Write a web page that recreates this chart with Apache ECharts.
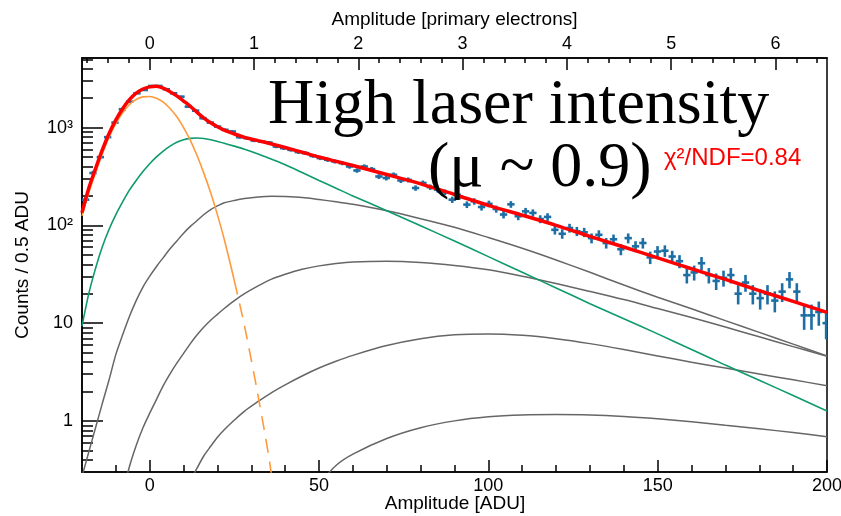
<!DOCTYPE html>
<html>
<head>
<meta charset="utf-8">
<script src="https://cdn.jsdelivr.net/npm/echarts/dist/echarts.min.js"></script>
<style>
html,body{margin:0;padding:0;background:#fff;}
#chart{width:841px;height:516px;}
</style>
</head>
<body>
<div id="chart"></div>
<script>
// ---------------- DATA ----------------
// histogram (Amplitude in ADU), 102 bins starting at -20 ADU
const binStart = -20;
const binWidth = 2.165;
const counts = [183,343,499,798,1125,1541,1841,2244,2425,2665,
  2665,2466,2244,2072,1638,1490,1247,1125,1024,948,
  911,798,780,737,720,703,640,616,592,562,
  548,514,487,468,450,433,400,364,400,376,
  316,305,329,288,292,241,271,246,232,218,
  183,198,163,176,154,166,147,129,164,124,
  139,134,116,122,90,82,94,87,85,74,
  80,66,72,57,74,61,66,47,54,55,
  48,43,31,33,41,31,27,29,31,20,
  26,20,18,20,17,21,28,21,12,12,
  13,10];

// fitted curves sampled at curveX (ADU)
const curveX = [-20,-18,-16,-14,-12,-10,-8,-6,-4,-2,0,2,4,6,8,10,12,14,16,18,20,22,25,28,32,36,40,45,50,55,60,70,80,90,100,110,120,130,140,150,160,170,180,190,200];
const totalFit = [135,240,380,590,870,1200,1560,1930,2250,2480,2610,2640,2530,2330,2110,1870,1650,1430,1250,1120,1020,940,860,795,735,680,625,560,500,452,409,331,266,207,160,127,100,77,60,46.5,36,28,21.5,16.7,12.9];
const pe0 = [125,215,345,540,800,1100,1420,1720,1940,2060,2080,2000,1820,1570,1290,1000,740,515,340,215,128,72,27,9.3,1.8,0.27,0.012,
  null,null,null,null,null,null,null,null,null,null,null,null,null,null,null,null,null,null];
const pe1 = [9.3,20,36.3,60.3,91.2,129,174,229,288,355,427,501,575,646,708,750,776,782,773,750,721,692,646,600,537,474,417,347,288,240,200,141,98.9,69.2,47.9,33.1,22.9,15.8,11.1,7.76,5.37,3.72,2.6,1.82,1.26];
const pe2 = [0.27,0.48,0.85,1.51,2.63,4.79,7.59,11.7,17,23.4,30.2,38,46.8,57.5,69.2,83.2,97.7,112,129,145,158,170,180,188,195,198,197,193,184,174,164,141,117,95.5,75,58.2,44.2,33.1,24.5,18.4,14,10.6,8.04,6.1,4.62];
const pe3 = [null,null,null,null,null,null,0.18,0.34,0.56,0.85,1.2,1.66,2.29,3.02,3.89,4.9,6.17,7.59,9.12,10.7,12.3,14.1,17,20,24,28.2,31.6,35.5,38.5,40.7,42.2,42.9,41.7,38.9,35.1,30.2,25.4,21.1,17.4,14.1,11.4,9.12,7.24,5.75,4.57];
const pe4 = [null,null,null,null,null,null,null,null,null,null,null,null,null,null,null,null,0.24,0.33,0.44,0.55,0.68,0.81,1.02,1.26,1.58,1.95,2.34,2.88,3.47,4.07,4.68,5.89,6.92,7.59,7.76,7.5,6.92,6.17,5.37,4.62,3.98,3.47,3.02,2.63,2.29];
const pe5 = [null,null,null,null,null,null,null,null,null,null,null,null,null,null,null,null,null,null,null,null,null,null,null,null,null,null,null,null,0.224,0.35,0.457,0.66,0.85,1.0,1.1,1.15,1.16,1.15,1.11,1.05,0.98,0.9,0.83,0.76,0.69];
const dashStartX = 25;  // pedestal curve drawn dashed beyond this

// axes
const xMin = -20, xMax = 200;
const yMin = 0.3, yMax = 5150;
const adcPerElectron = 30.8;
const bottomMajor = [0,50,100,150,200];
const bottomMinor = [-10,10,20,30,40,60,70,80,90,110,120,130,140,160,170,180,190];
const topMajor = [0,1,2,3,4,5,6];
const topMinor = [-0.6,-0.4,-0.2,0.2,0.4,0.6,0.8,1.2,1.4,1.6,1.8,2.2,2.4,2.6,2.8,3.2,3.4,3.6,3.8,4.2,4.4,4.6,4.8,5.2,5.4,5.6,5.8,6.2,6.4];
const leftMajor = [1,10,100,1000];
const leftMinor = [0.4,0.5,0.6,0.7,0.8,0.9,2,3,4,5,6,7,8,9,20,30,40,50,60,70,80,90,200,300,400,500,600,700,800,900,2000,3000,4000,5000];

// -------------- BUILD ---------------
const pair = arr => curveX.map((x,i)=>[x, arr[i]]);
const histData = counts.map((c,i)=>[binStart + binWidth*(i+0.5), c]);
const pe0Solid = curveX.map((x,i)=> x<=dashStartX ? [x,pe0[i]] : [x,null]);
const pe0Dash = curveX.map((x,i)=> x>=dashStartX ? [x,pe0[i]] : [x,null]);

const SANS = '"Liberation Sans", Arial, sans-serif';
const SERIF = '"Liberation Serif", "Times New Roman", serif';
const blk = {color:'#000', width:1.5};

const chart = echarts.init(document.getElementById('chart'), null, {renderer:'canvas'});
const lineBase = {type:'line', showSymbol:false, symbol:'none', smooth:0.3, clip:true, silent:true, animation:false, connectNulls:false};

chart.setOption({
  animation:false,
  backgroundColor:'#fff',
  grid:{left:82, right:14, top:58, bottom:44, show:true, borderColor:'#000', borderWidth:1.5,
        backgroundColor:'transparent', containLabel:false, outerBoundsMode:'none'},
  xAxis:[
    {type:'value', min:xMin, max:xMax, position:'bottom',
     axisLine:{show:true, onZero:false, lineStyle:blk},
     axisTick:{show:true, inside:true, length:12, customValues:bottomMajor, lineStyle:blk},
     axisLabel:{customValues:bottomMajor, color:'#000', fontSize:18, fontFamily:SANS, margin:5},
     splitLine:{show:false}},
    {type:'value', min:xMin, max:xMax, position:'bottom',
     axisLine:{show:false, onZero:false},
     axisTick:{show:true, inside:true, length:7, customValues:bottomMinor, lineStyle:blk},
     axisLabel:{show:false}, splitLine:{show:false}},
    {type:'value', min:xMin/adcPerElectron, max:xMax/adcPerElectron, position:'top',
     axisLine:{show:true, onZero:false, lineStyle:blk},
     axisTick:{show:true, inside:true, length:12, customValues:topMajor, lineStyle:blk},
     axisLabel:{customValues:topMajor, color:'#000', fontSize:18, fontFamily:SANS, margin:5},
     splitLine:{show:false},
     name:'Amplitude [primary electrons]', nameLocation:'middle', nameGap:29,
     nameTextStyle:{color:'#000', fontSize:19, fontFamily:SANS}},
    {type:'value', min:xMin/adcPerElectron, max:xMax/adcPerElectron, position:'top',
     axisLine:{show:false, onZero:false},
     axisTick:{show:true, inside:true, length:5, customValues:topMinor, lineStyle:blk},
     axisLabel:{show:false}, splitLine:{show:false}}
  ],
  yAxis:[
    {type:'log', logBase:10, min:yMin, max:yMax, position:'left',
     axisLine:{show:true, onZero:false, lineStyle:blk},
     axisTick:{show:true, inside:true, length:21, customValues:leftMajor, lineStyle:blk},
     axisLabel:{customValues:leftMajor, color:'#000', fontSize:18, fontFamily:SANS, margin:9,
       formatter:function(v){const e=Math.round(Math.log10(v)); return e===0?'1':(e===1?'10':(e===2?'10²':'10³'));}},
     splitLine:{show:false}, minorTick:{show:false},
     name:'Counts / 0.5 ADU', nameLocation:'middle', nameGap:50,
     nameTextStyle:{color:'#000', fontSize:19, fontFamily:SANS}},
    {type:'log', logBase:10, min:yMin, max:yMax, position:'left',
     axisLine:{show:false, onZero:false},
     axisTick:{show:true, inside:true, length:11, customValues:leftMinor, lineStyle:blk},
     axisLabel:{show:false}, splitLine:{show:false}}
  ],
  series:[
    {type:'custom', name:'data', xAxisIndex:0, yAxisIndex:0, clip:true, silent:true, z:2,
     data:histData,
     renderItem:function(params, api){
       const x = api.value(0), v = api.value(1);
       const e = Math.sqrt(v);
       const c = api.coord([x, v]);
       const l = api.coord([x - binWidth/2, v]);
       const r = api.coord([x + binWidth/2, v]);
       const t = api.coord([x, v + e]);
       const b = api.coord([x, Math.max(v - e, yMin)]);
       const st = {stroke:'#1c6ea4', lineWidth:2.6, lineCap:'butt'};
       return {type:'group', children:[
         {type:'line', shape:{x1:l[0], y1:c[1], x2:r[0], y2:c[1]}, style:st},
         {type:'line', shape:{x1:c[0], y1:t[1], x2:c[0], y2:b[1]}, style:st}
       ]};
     }},
    Object.assign({}, lineBase, {name:'5 p.e.', data:pair(pe5), z:3, lineStyle:{color:'#666666', width:1.5}}),
    Object.assign({}, lineBase, {name:'4 p.e.', data:pair(pe4), z:3, lineStyle:{color:'#666666', width:1.5}}),
    Object.assign({}, lineBase, {name:'3 p.e.', data:pair(pe3), z:3, lineStyle:{color:'#666666', width:1.5}}),
    Object.assign({}, lineBase, {name:'2 p.e.', data:pair(pe2), z:3, lineStyle:{color:'#666666', width:1.5}}),
    Object.assign({}, lineBase, {name:'1 p.e.', data:pair(pe1), z:3, lineStyle:{color:'#0e9a6e', width:1.6}}),
    Object.assign({}, lineBase, {name:'pedestal', data:pe0Solid, z:3, lineStyle:{color:'#ff9a3c', width:1.6}}),
    Object.assign({}, lineBase, {name:'pedestal tail', data:pe0Dash, z:3, lineStyle:{color:'#ff9a3c', width:1.6, type:[14,9]}}),
    Object.assign({}, lineBase, {name:'total', data:pair(totalFit), z:4, lineStyle:{color:'#ff0000', width:3.5}})
  ],
  graphic:[
    {type:'text', x:455, y:504, z:100, style:{text:'Amplitude [ADU]', font:'19px ' + SANS, fill:'#000', align:'center', verticalAlign:'middle'}},
    {type:'text', x:268, y:106, z:100, style:{text:'High laser intensity', font:'64px ' + SERIF, fill:'#000', align:'left', verticalAlign:'middle'}},
    {type:'text', x:428, y:169, z:100, style:{text:'(μ ~ 0.9)', font:'64px ' + SERIF, fill:'#000', align:'left', verticalAlign:'middle'}},
    {type:'text', x:664, y:158, z:100, style:{text:'χ²/NDF=0.84', font:'24px ' + SANS, fill:'#ff0000', align:'left', verticalAlign:'middle'}}
  ]
});
</script>
</body>
</html>
